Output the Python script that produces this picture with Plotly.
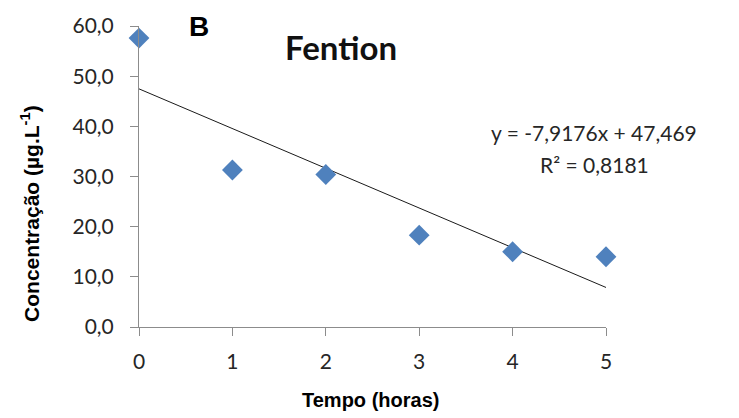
import plotly.graph_objects as go

tempo = [0, 1, 2, 3, 4, 5]
concentracao = [57.6, 31.3, 30.4, 18.3, 15.0, 14.0]
slope = -7.9176
intercept = 47.469
r2_text = "0,8181"
y_ticks = [0, 10, 20, 30, 40, 50, 60]
x_ticks = [0, 1, 2, 3, 4, 5]

trend_x = [tempo[0], tempo[-1]]
trend_y = [intercept + slope * x for x in trend_x]

fig = go.Figure()
fig.add_trace(go.Scatter(x=trend_x, y=trend_y, mode="lines",
                         line=dict(color="#1a1a1a", width=1), showlegend=False,
                         hoverinfo="skip"))
fig.add_trace(go.Scatter(x=tempo, y=concentracao, mode="markers",
                         marker=dict(symbol="diamond", size=16, color="#4F81BD",
                                     line=dict(width=0)),
                         showlegend=False, cliponaxis=False))

tick_font = dict(family="Lato, Open Sans, sans-serif", size=21, color="#262626")
fig.update_layout(
    width=739, height=418,
    margin=dict(l=139, r=133, t=21, b=91),
    plot_bgcolor="white", paper_bgcolor="white",
    separators=",.",
    xaxis=dict(range=[0, 5], tickvals=x_ticks, showgrid=False, zeroline=False,
               showline=True, linecolor="#8c8c8c", linewidth=1,
               ticks="outside", ticklen=8, tickcolor="#8c8c8c",
               tickfont=tick_font, ticklabelstandoff=8),
    yaxis=dict(range=[0, 60], tickvals=y_ticks, tickformat=".1f", showgrid=False,
               zeroline=False, showline=True, linecolor="#8c8c8c", linewidth=1,
               ticks="outside", ticklen=8, tickcolor="#8c8c8c",
               tickfont=tick_font, ticklabelstandoff=12),
    annotations=[
        dict(text="<b>Fention</b>", xref="paper", yref="paper",
             showarrow=False, font=dict(family="Lato, sans-serif", size=33, color="#111")),
        dict(text="<b>B</b>", xref="paper", yref="paper", showarrow=False,
             font=dict(family="Liberation Sans, Arial", size=28, color="black")),
        dict(text="y = -7,9176x + 47,469", xref="paper", yref="paper",
             showarrow=False, font=dict(family="Lato, sans-serif", size=21, color="#262626")),
        dict(text="R² = " + r2_text, xref="paper", yref="paper",
             showarrow=False, font=dict(family="Lato, sans-serif", size=21, color="#262626")),
        dict(text="<b>Tempo (horas)</b>", xref="paper", yref="paper",
             showarrow=False, font=dict(family="Liberation Sans Narrow, Liberation Sans, Arial", size=20, color="black")),
        dict(text="<b>Concentração (µg.L<sup>-1</sup>)</b>", xref="paper", yref="paper",
             showarrow=False, textangle=-90,
             font=dict(family="Liberation Sans Narrow, Liberation Sans, Arial", size=21, color="black")),
    ],
)

W, H = 739, 418
pw = W - 139 - 133
ph = H - 21 - 91
def px(x, y):
    return (x - 139) / pw, (H - 91 - y) / ph
pos = [(341, 42), (199, 22), (594, 129), (594, 162), (370, 401), (30, 212)]
for ann, (x, y) in zip(fig.layout.annotations, pos):
    ax, ay = px(x, y)
    ann.x = ax
    ann.y = ay
    ann.xanchor = "center"
    ann.yanchor = "middle"

fig.write_html("out.html")
